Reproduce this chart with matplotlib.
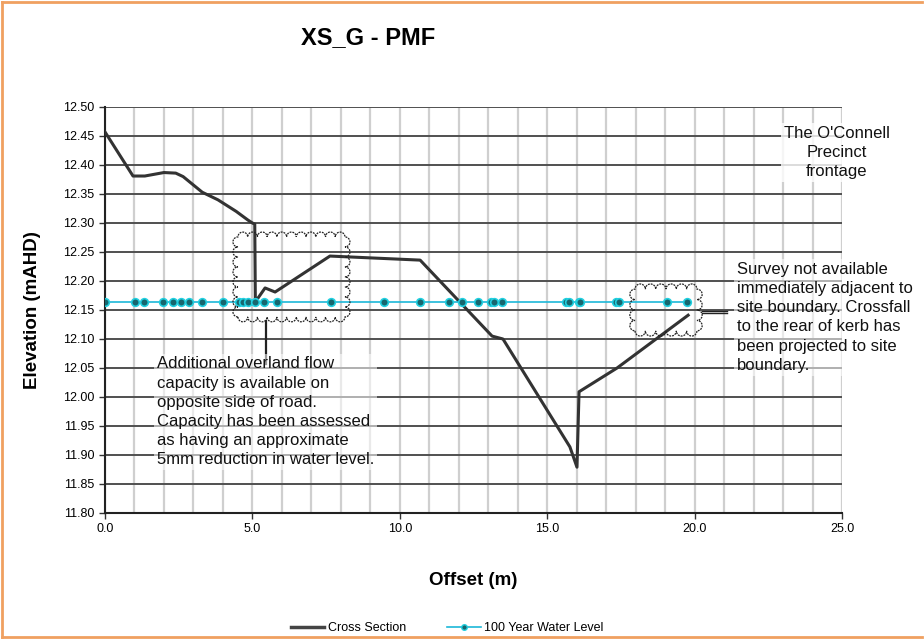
import numpy as np
import matplotlib
matplotlib.use('Agg')
import matplotlib.pyplot as plt
from matplotlib.path import Path
from matplotlib.patches import PathPatch
from matplotlib.transforms import IdentityTransform
from matplotlib.lines import Line2D

plt.rcParams['font.family'] = ['Liberation Sans', 'DejaVu Sans']

# cross section (offset m, elevation mAHD)
xs_x = [0.0, 0.95, 1.35, 2.0, 2.4, 2.65, 3.3, 3.83, 4.45, 4.85, 5.0, 5.08, 5.1,
        5.43, 5.77, 7.63, 10.69, 13.13, 13.5, 15.77, 16.01, 16.08, 17.37, 19.78]
xs_y = [12.457, 12.381, 12.381, 12.387, 12.386, 12.380, 12.353, 12.340, 12.320,
        12.305, 12.300, 12.298, 12.164, 12.188, 12.181, 12.243, 12.236, 12.105,
        12.100, 11.914, 11.879, 12.009, 12.050, 12.141]

# 100 year water level
wl_x = [0.0, 1.02, 1.32, 1.97, 2.31, 2.58, 2.85, 3.29, 4.0, 4.55, 4.68, 4.85,
        5.09, 5.39, 5.83, 7.67, 9.48, 10.69, 11.67, 12.11, 12.65, 13.09, 13.2,
        13.47, 15.64, 15.74, 16.08, 16.11, 17.33, 17.44, 19.06, 19.74]
wl_level = 12.164

fig = plt.figure(figsize=(9.24, 6.39), dpi=100)
ax = fig.add_axes([105/924, 1 - 513/639, 737/924, 406/639])

ax.set_xlim(0, 25)
ax.set_ylim(11.80, 12.50)
ax.set_xticks(np.arange(0, 25.1, 5))
ax.set_xticks(np.arange(0, 25.1, 1), minor=True)
ax.set_yticks(np.arange(11.80, 12.501, 0.05))
ax.xaxis.set_major_formatter(lambda v, p: f'{v:.1f}')
ax.yaxis.set_major_formatter(lambda v, p: f'{v:.2f}')
ax.tick_params(labelsize=9, length=4, width=1, color='#333333')
ax.tick_params(axis='x', which='minor', length=0)

ax.grid(True, axis='x', which='both', color='#cfcfcf', lw=1.6)
ax.grid(True, axis='y', which='major', color='#505050', lw=1.4)
ax.set_axisbelow(True)
for s in ['top', 'right']:
    ax.spines[s].set_visible(False)
for s in ['left', 'bottom']:
    ax.spines[s].set_color('#222222')
    ax.spines[s].set_linewidth(1.5)

ax.plot(xs_x, xs_y, color='#333333', lw=2.2, zorder=4)
ax.plot(wl_x, [wl_level]*len(wl_x), color='#1cb8d8', lw=1.2, marker='o',
        ms=5.5, mfc='#17666e', mec='#22d0e0', mew=1.2, zorder=5)

ax.set_xlabel('Offset (m)', fontsize=13.5, fontweight='bold', labelpad=0)
ax.xaxis.set_label_coords(0.5, -(572 - 513) / 406)
ax.set_ylabel('Elevation (mAHD)', fontsize=13.5, fontweight='bold')
ax.yaxis.set_label_coords(-(105 - 41) / 737, 0.5)
fig.text(368/924, 1 - 38/639, 'XS_G - PMF', fontsize=17, fontweight='bold',
         ha='center', va='center')


def cloud(x0, y0, x1, y1, step=10):
    # scalloped rectangle in pixel coords
    p0 = ax.transData.transform((x0, y0))
    p1 = ax.transData.transform((x1, y1))
    left, right = min(p0[0], p1[0]), max(p0[0], p1[0])
    bot, top = min(p0[1], p1[1]), max(p0[1], p1[1])
    corners = [(left, bot), (right, bot), (right, top), (left, top), (left, bot)]
    verts = []
    for (ax0, ay0), (ax1, ay1) in zip(corners[:-1], corners[1:]):
        L = np.hypot(ax1 - ax0, ay1 - ay0)
        n = max(1, int(round(L / step)))
        dx, dy = (ax1 - ax0) / L, (ay1 - ay0) / L
        nx, ny = dy, -dx  # outward normal for ccw path
        r = L / n / 2
        for i in range(n):
            cx = ax0 + dx * (2 * i + 1) * r
            cy = ay0 + dy * (2 * i + 1) * r
            for tt in np.linspace(np.pi, 0, 12):
                verts.append((cx + dx * r * np.cos(tt) + nx * r * np.sin(tt),
                              cy + dy * r * np.cos(tt) + ny * r * np.sin(tt)))
    verts.append(verts[0])
    patch = PathPatch(Path(verts), transform=IdentityTransform(), fill=False,
                      ec='#222222', lw=0.9, ls=(0, (1.5, 0.8)), zorder=6)
    fig.add_artist(patch)


cloud(4.51, 12.138, 8.14, 12.276)
cloud(17.98, 12.114, 20.08, 12.186)

# callout lines
ax.plot([5.45, 5.45], [12.131, 12.057], color='#222222', lw=1.6, zorder=6)
ax.plot([20.25, 21.1], [12.1485, 12.1485], color='#222222', lw=1.0, zorder=6)
ax.plot([20.25, 21.1], [12.1445, 12.1445], color='#222222', lw=1.0, zorder=6)

box = dict(fc='white', ec='none', alpha=0.55, pad=2)
ax.text(1.76, 12.07, 'Additional overland flow\ncapacity is available on\n'
        'opposite side of road.\nCapacity has been assessed\n'
        'as having an approximate\n5mm reduction in water level.',
        fontsize=12, va='top', ha='left', linespacing=1.35, zorder=7,
        color='#111111', bbox=box)
ax.text(21.44, 12.233, 'Survey not available\nimmediately adjacent to\n'
        'site boundary. Crossfall\nto the rear of kerb has\n'
        'been projected to site\nboundary.',
        fontsize=12, va='top', ha='left', linespacing=1.35, zorder=7,
        color='#111111', bbox=box)
ax.text(24.83, 12.468, "The O'Connell\nPrecinct\nfrontage", fontsize=12,
        va='top', ha='center', linespacing=1.35, zorder=7, color='#111111',
        bbox=dict(fc='white', ec='none', alpha=0.8, pad=2))

handles = [Line2D([], [], color='#444444', lw=2.5),
           Line2D([], [], color='#1cb8d8', lw=1.2, marker='o', ms=4,
                  mfc='#17666e', mec='#22d0e0')]
fig.legend(handles, ['Cross Section', '100 Year Water Level'], loc='center',
           bbox_to_anchor=(447/924, 1 - 628/639), ncol=2, frameon=False,
           fontsize=9, handlelength=2.7, handletextpad=0.25, columnspacing=3.3)

# orange outer frame
for xs, ys in [([2, 2], [2, 637]), ([2, 922], [2, 2]), ([2, 922], [637, 637])]:
    fig.add_artist(Line2D([x/924 for x in xs], [1 - y/639 for y in ys],
                          color='#f0a060', lw=2, transform=fig.transFigure))

fig.savefig('out.png', dpi=100)
